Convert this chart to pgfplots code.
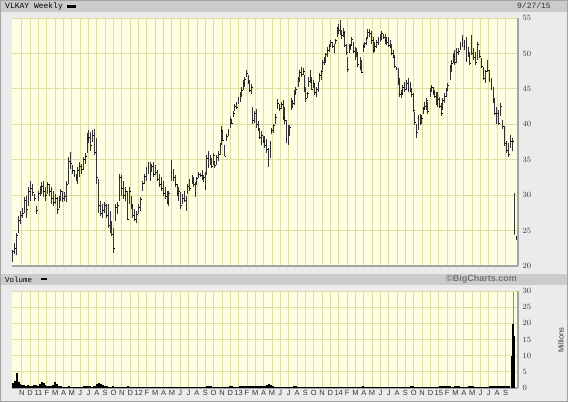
\documentclass[border=0pt]{standalone}
\usepackage{pgfplots}
\pgfplotsset{compat=1.18}
\usepackage{pgfplotstable}
\usepackage{fontspec}
\setmainfont{Liberation Sans}
\newfontfamily\monofont{Liberation Mono}
\definecolor{plotbg}{HTML}{FFFFE3}
\definecolor{gridc}{HTML}{DEDEA2}
\definecolor{framebg}{HTML}{EBEBEB}
\definecolor{barbg}{HTML}{CBCBCB}
\definecolor{axisc}{HTML}{A4A4A4}
\definecolor{lblc}{HTML}{333333}

\pgfdeclareplotmark{closetick}{\pgfpathmoveto{\pgfpointorigin}\pgfpathlineto{\pgfpoint{1.3pt}{0pt}}\pgfusepathqstroke}

\pgfplotstableread{
x h l c
0.0 22.3 20.6 22.0
1.0 23.2 21.7 22.5
2.1 24.7 21.6 24.3
3.1 27.0 24.7 26.5
4.2 27.8 25.9 27.2
5.2 28.2 26.8 27.5
6.2 29.7 27.5 29.2
7.3 29.9 26.8 28.0
8.3 31.1 28.5 30.5
9.3 32.0 29.2 31.0
10.4 31.6 29.9 30.4
11.4 30.1 29.2 29.5
12.5 28.5 27.3 27.8
13.3 30.6 29.2 30.2
14.2 31.3 29.9 30.8
15.0 31.8 30.1 31.2
15.9 32.0 29.7 30.5
17.0 31.1 29.2 30.0
18.0 31.8 30.1 31.5
19.0 31.6 29.9 30.6
20.1 31.1 28.7 29.5
21.1 30.6 28.5 29.0
22.1 30.1 28.7 29.6
23.2 29.7 27.3 28.0
24.0 29.9 28.2 29.3
24.9 30.9 29.2 30.5
26.0 30.6 29.0 29.5
27.0 30.4 29.2 29.8
28.0 32.0 29.0 31.5
29.1 35.4 31.6 34.8
30.1 36.1 33.7 34.5
30.9 34.2 33.0 33.5
31.8 33.5 32.5 32.8
32.9 33.0 32.0 32.5
33.6 34.0 31.6 33.5
34.6 34.7 32.5 34.0
35.6 34.4 33.0 33.6
36.7 35.4 33.5 35.0
37.7 35.9 34.4 35.5
38.8 38.7 35.9 38.0
39.5 39.2 37.3 38.2
40.5 38.9 36.3 37.0
41.5 39.2 37.5 38.5
42.6 39.4 35.6 36.0
43.6 38.0 31.6 32.5
44.6 32.3 27.5 28.5
45.7 29.2 27.0 27.5
46.7 28.7 26.8 27.8
47.8 29.0 27.5 28.5
48.8 28.7 26.8 27.2
49.8 28.7 25.4 25.8
50.5 27.8 24.7 25.5
51.4 26.3 24.2 24.5
52.3 25.4 21.8 22.5
53.3 28.8 26.4 28.3
54.3 29.0 27.3 28.5
55.4 33.0 29.2 32.5
56.4 32.8 29.9 31.0
57.5 32.0 29.4 30.0
58.5 31.1 29.2 30.5
59.5 30.6 26.6 26.6
60.6 31.1 28.7 30.5
61.6 29.9 28.0 28.5
62.4 28.7 26.8 27.2
63.3 28.0 26.3 26.6
64.4 27.8 26.1 27.3
65.4 28.7 27.3 28.3
66.4 29.7 27.8 29.4
67.5 32.0 30.6 31.6
68.3 33.0 31.6 32.7
69.2 34.0 32.0 33.8
70.3 34.7 33.0 34.0
71.3 34.7 32.0 33.0
72.3 34.4 33.2 34.0
73.1 34.7 32.5 33.0
74.1 34.2 32.8 33.2
75.1 33.5 32.0 32.2
76.1 33.0 31.1 31.5
77.2 32.5 30.6 31.0
78.2 32.0 29.9 30.2
79.2 31.1 29.4 29.8
80.3 30.6 28.7 29.0
81.0 30.6 28.5 30.2
82.2 35.0 32.0 33.2
83.4 33.7 32.0 32.5
84.4 32.8 31.1 31.5
85.5 31.6 29.9 30.2
86.3 31.1 29.2 30.5
87.2 30.4 28.0 28.5
88.2 30.1 28.7 29.5
89.3 30.6 29.0 29.3
90.1 29.9 27.8 29.5
91.0 31.6 30.1 31.2
92.0 32.3 30.6 31.0
93.1 32.8 31.6 32.0
93.9 32.6 31.2 31.5
94.7 31.9 29.8 30.2
95.6 32.6 31.4 32.3
96.6 33.3 32.4 33.0
97.4 33.1 32.5 32.8
98.4 33.6 32.1 32.4
99.2 32.9 31.9 32.5
99.9 33.3 30.7 31.0
100.8 35.7 32.9 35.2
101.5 36.2 33.8 34.2
102.5 35.7 34.3 35.0
103.2 35.2 33.8 34.0
104.2 36.0 34.3 35.6
104.9 34.8 33.8 34.2
106.0 35.7 34.3 35.3
107.0 36.2 34.8 35.8
107.7 37.4 35.7 37.0
108.4 39.8 37.1 39.2
109.1 39.0 37.6 37.8
110.1 37.1 35.5 35.5
111.2 38.6 37.6 38.3
111.9 39.3 38.3 39.0
112.9 41.0 39.5 40.7
113.6 40.7 40.0 40.2
114.6 41.9 41.0 41.5
115.3 42.9 41.9 42.5
116.4 43.1 42.1 42.4
117.1 43.8 42.9 43.5
118.1 44.5 43.1 44.2
118.8 45.2 43.8 44.8
119.8 46.2 44.8 45.8
120.5 46.7 45.2 46.3
121.5 47.7 46.7 47.2
122.2 46.9 45.7 46.0
122.9 46.2 44.5 44.8
124.0 45.7 44.3 45.2
124.7 42.4 40.0 40.5
125.7 41.9 40.2 41.5
126.7 42.1 39.5 40.0
127.4 40.5 39.0 39.3
128.1 39.5 37.9 38.2
129.2 39.0 37.1 38.5
130.2 38.3 37.4 37.6
130.9 38.3 36.7 37.0
131.9 37.9 36.0 36.4
132.6 36.7 34.0 35.0
133.7 37.6 35.2 37.3
134.4 39.5 38.6 39.2
135.4 40.0 38.8 39.8
136.4 41.4 40.0 41.0
137.5 43.6 42.1 43.0
138.5 42.9 41.9 42.2
139.5 43.1 42.1 42.8
140.6 43.4 40.6 41.0
141.3 42.5 40.1 40.5
142.0 40.6 37.3 38.0
143.0 39.9 37.1 37.5
144.0 39.9 38.3 39.5
144.7 43.7 42.0 43.2
145.4 43.4 42.3 43.0
146.5 44.8 42.7 44.5
147.1 45.3 44.1 45.0
148.2 46.7 45.3 46.4
148.9 47.7 46.0 47.3
149.9 48.1 46.7 47.0
151.0 47.9 46.9 47.5
151.6 46.9 44.6 45.0
152.3 45.3 43.2 43.6
153.0 44.6 43.7 44.3
153.7 46.7 45.3 46.0
154.8 47.7 45.8 46.2
155.4 46.7 44.8 45.0
156.1 46.2 45.1 45.8
156.8 45.8 44.1 44.5
157.9 45.3 43.9 45.0
158.6 46.0 44.6 45.8
159.3 47.2 46.0 46.9
160.3 47.7 46.2 47.5
161.0 49.1 47.7 48.8
161.7 49.5 48.4 49.0
162.7 50.0 48.6 49.8
163.4 50.9 49.5 50.5
164.4 51.4 50.2 51.0
165.1 51.9 50.9 51.5
166.2 51.6 50.7 51.0
166.9 51.4 50.0 50.2
167.6 52.1 51.4 51.8
168.6 53.8 52.3 53.5
169.3 54.2 52.8 53.2
170.0 54.7 52.6 53.8
170.7 53.3 52.1 52.5
171.7 53.6 52.3 53.0
172.4 53.1 50.9 51.2
173.4 51.4 49.8 50.2
174.1 49.5 47.4 47.8
174.8 51.4 50.0 51.0
175.5 51.4 50.5 51.2
176.2 52.3 51.2 52.0
176.9 51.6 50.0 50.3
177.9 50.9 49.1 49.4
178.6 50.7 49.5 50.2
179.3 50.0 48.1 48.5
180.4 49.5 47.7 48.0
181.1 49.1 47.2 47.4
182.1 51.4 50.2 51.0
182.8 51.6 50.7 51.4
183.5 52.3 51.2 52.0
184.5 53.5 52.1 53.0
185.5 53.5 52.3 52.8
186.3 53.1 51.4 51.8
187.4 52.3 50.0 50.5
188.1 51.6 50.2 51.0
189.1 51.9 50.7 51.5
189.8 52.3 51.2 52.0
190.8 52.8 51.6 52.2
191.5 53.1 51.9 52.8
192.6 52.8 52.1 52.3
193.6 52.8 51.4 51.8
194.3 52.3 51.2 51.6
195.3 52.3 50.9 51.2
196.0 51.9 50.7 51.0
196.7 51.4 49.8 50.0
197.7 50.5 49.3 49.5
198.4 49.8 47.9 48.2
199.1 48.1 47.7 47.9
200.2 47.9 45.5 46.0
200.9 46.5 43.9 44.2
201.9 44.8 43.7 44.3
202.6 45.5 44.1 45.2
203.6 46.0 44.6 45.0
204.7 46.2 44.8 45.8
205.4 46.5 44.6 44.9
206.4 46.0 44.6 45.5
207.1 45.1 43.9 44.2
208.1 44.4 41.8 42.0
208.8 41.8 39.9 40.3
209.9 40.1 38.0 38.8
210.6 41.3 39.2 41.0
211.6 41.5 39.9 40.2
212.3 41.3 40.1 40.8
213.3 42.5 41.5 42.2
214.0 43.2 42.0 42.5
215.0 43.7 42.0 43.4
215.7 43.2 41.5 41.8
216.8 45.1 43.9 44.8
217.5 45.5 44.6 45.2
218.5 45.3 44.1 44.5
219.2 44.8 43.7 44.0
220.2 44.6 42.7 43.0
220.9 44.6 42.5 43.5
221.6 43.9 42.3 42.6
222.7 43.0 41.1 41.5
223.4 43.7 42.0 43.4
224.4 44.4 43.0 44.0
225.4 45.1 43.9 44.8
226.1 45.8 44.8 45.5
227.2 48.4 46.2 48.0
227.9 49.1 47.4 48.6
228.9 50.0 48.6 49.6
229.6 50.5 48.4 48.8
230.6 50.7 48.6 50.2
231.7 50.7 49.8 50.3
232.4 51.6 50.5 51.2
233.4 52.6 50.9 52.0
234.5 51.9 50.5 51.0
235.5 52.3 48.8 49.2
236.5 50.9 49.5 50.0
237.5 50.2 48.4 48.6
238.5 52.6 49.8 50.0
239.5 50.7 49.1 49.4
240.5 50.2 48.4 48.8
241.5 51.6 49.1 51.3
242.5 50.5 49.3 49.6
243.5 49.3 47.9 48.2
244.5 48.1 46.2 46.5
245.5 47.7 45.8 47.5
246.5 49.1 47.4 47.6
247.5 47.7 46.0 46.3
248.5 46.5 44.8 45.0
249.5 45.3 43.0 43.5
250.5 43.7 41.3 41.6
251.5 42.5 40.1 41.5
252.5 42.0 39.9 40.2
253.5 43.0 41.1 42.6
254.5 40.6 39.4 39.7
255.5 39.7 36.9 37.3
256.5 37.6 35.9 36.3
257.5 37.3 35.4 35.8
258.5 38.5 36.6 37.6
259.5 38.0 36.2 37.6
260.5 30.3 24.4 25.0
261.5 24.2 23.7 24.0
}\price

\begin{document}
\begin{tikzpicture}
\begin{scope}[x=1pt,y=1pt]
\useasboundingbox (0,0) rectangle (568,402);
\fill[framebg] (0,0) rectangle (568,402);
\fill[barbg] (0,390) rectangle (568,402);
\fill[barbg] (0,117) rectangle (568,128);
\draw[axisc] (0.5,0.5) rectangle (567.5,401.5);
\node[anchor=west, inner sep=0pt, font=\monofont\fontsize{8}{8}\selectfont] at (5,396) {VLKAY Weekly};
\fill[black] (66.5,394.2) rectangle (75.5,397);
\node[anchor=east, inner sep=0pt, font=\monofont\fontsize{8}{8}\selectfont, text=lblc] at (551,396) {9/27/15};
\node[anchor=west, inner sep=0pt, font=\monofont\fontsize{7.5}{8}\selectfont] at (5,122.6) {Volume};
\fill[black] (40.7,121.8) rectangle (46.7,123.6);
\node[anchor=east, inner sep=0pt, font=\bfseries\fontsize{9}{9}\selectfont, text=black!55] at (517,122.6) {©BigCharts.com};
\node[rotate=90, inner sep=0pt, font=\fontsize{7.5}{8}\selectfont, text=lblc] at (561,62) {Millions};
\end{scope}

\begin{axis}[
  at={(12pt,136pt)}, anchor=south west, scale only axis,
  width=506pt, height=248pt,
  xmin=-0.4, xmax=262.5, ymin=20, ymax=55,
  axis background/.style={fill=plotbg},
  axis x line*=bottom, axis y line*=right,
  axis line style={axisc, line width=1.3pt},
  xtick={4.7,9.0333,...,256.5}, xticklabels={},
  ytick={20,25,...,55},
  major tick length=0pt,
  grid=major, major grid style={gridc, line width=0.9pt},
  yticklabel style={font=\fontsize{8}{8}\selectfont, text=lblc, xshift=1pt},
]
\addplot[only marks, mark=closetick, black, mark options={line width=0.7pt},
  error bars/.cd, y dir=both, y explicit, error mark=none,
  error bar style={line width=0.9pt, black!80}]
  table[x=x, y=c, y error plus expr=\thisrow{h}-\thisrow{c}, y error minus expr=\thisrow{c}-\thisrow{l}] {\price};
\end{axis}

\begin{axis}[
  at={(12pt,14pt)}, anchor=south west, scale only axis,
  width=506pt, height=97pt,
  xmin=-0.4, xmax=262.5, ymin=0, ymax=30,
  axis background/.style={fill=plotbg},
  axis x line*=bottom, axis y line*=right,
  axis line style={axisc, line width=1.3pt},
  xtick={4.7,9.0333,...,256.5},
  xticklabels={N,D,11,F,M,A,M,J,J,A,S,O,N,D,12,F,M,A,M,J,J,A,S,O,N,D,13,F,M,A,M,J,J,A,S,O,N,D,14,F,M,A,M,J,J,A,S,O,N,D,15,F,M,A,M,J,J,A,S},
  ytick={0,5,...,30},
  major tick length=0pt,
  grid=major, major grid style={gridc, line width=0.9pt},
  yticklabel style={font=\fontsize{8}{8}\selectfont, text=lblc, xshift=1pt},
  xticklabel style={font=\fontsize{7.5}{8}\selectfont, text=lblc, yshift=1pt},
]
\addplot[ycomb, black!45, line width=0.9pt] coordinates {(260.2,29.8)};
\addplot[ycomb, black, line width=1.95pt] coordinates {
(0,1.4)(1,2.2)(2,4.5)(3,2.0)(4,1.3)(5,1.0)(6,0.9)(7,0.7)(8,0.8)(9,0.6)
(10,0.7)(11,1.0)(12,0.9)(13,0.6)(14,1.1)(15,1.9)(16,1.4)(17,0.8)(18,0.6)(19,0.5)
(20,0.6)(21,0.9)(22,1.8)(23,1.3)(24,0.6)(25,0.5)(26,0.4)(27,0.4)(28,0.4)(29,0.5)
(30,0.4)(31,0.3)(32,0.3)(33,0.3)(34,0.3)(35,0.3)(36,0.3)(37,0.5)(38,0.5)(39,0.6)
(40,0.5)(41,0.4)(42,0.5)(43,0.7)(44,1.1)(45,1.5)(46,1.3)(47,0.9)(48,0.6)(49,0.5)
(50,0.4)(51,0.4)(52,0.6)(53,0.4)(54,0.3)(55,0.4)(56,0.4)(57,0.4)(58,0.4)(59,0.4)
(60,0.5)(61,0.4)(62,0.3)(63,0.4)(64,0.3)(65,0.3)(66,0.3)(67,0.3)(68,0.3)(69,0.3)
(70,0.3)(71,0.3)(72,0.3)(73,0.3)(74,0.3)(75,0.3)(76,0.3)(77,0.3)(78,0.3)(79,0.3)
(80,0.3)(81,0.3)(82,0.3)(83,0.3)(84,0.3)(85,0.3)(86,0.3)(87,0.3)(88,0.3)(89,0.3)
(90,0.3)(91,0.3)(92,0.3)(93,0.3)(94,0.3)(95,0.3)(96,0.3)(97,0.3)(98,0.3)(99,0.3)
(100,0.3)(101,0.5)(102,0.5)(103,0.5)(104,0.4)(105,0.3)(106,0.3)(107,0.3)(108,0.3)(109,0.3)
(110,0.3)(111,0.3)(112,0.3)(113,0.5)(114,0.5)(115,0.4)(116,0.3)(117,0.3)(118,0.5)(119,0.5)
(120,0.5)(121,0.5)(122,0.5)(123,0.5)(124,0.5)(125,0.5)(126,0.5)(127,0.5)(128,0.5)(129,0.5)
(130,0.5)(131,0.6)(132,0.9)(133,1.1)(134,1.0)(135,0.6)(136,0.4)(137,0.4)(138,0.3)(139,0.3)
(140,0.3)(141,0.3)(142,0.3)(143,0.3)(144,0.3)(145,0.4)(146,0.5)(147,0.5)(148,0.4)(149,0.3)
(150,0.3)(151,0.3)(152,0.3)(153,0.3)(154,0.3)(155,0.3)(156,0.4)(157,0.4)(158,0.4)(159,0.4)
(160,0.3)(161,0.3)(162,0.3)(163,0.4)(164,0.3)(165,0.3)(166,0.3)(167,0.3)(168,0.3)(169,0.4)
(170,0.4)(171,0.4)(172,0.4)(173,0.3)(174,0.3)(175,0.3)(176,0.3)(177,0.3)(178,0.3)(179,0.3)
(180,0.3)(181,0.4)(182,0.6)(183,0.4)(184,0.3)(185,0.3)(186,0.3)(187,0.3)(188,0.4)(189,0.4)
(190,0.4)(191,0.4)(192,0.4)(193,0.3)(194,0.3)(195,0.4)(196,0.4)(197,0.4)(198,0.4)(199,0.4)
(200,0.4)(201,0.4)(202,0.3)(203,0.3)(204,0.3)(205,0.3)(206,0.4)(207,0.6)(208,0.5)(209,0.4)
(210,0.3)(211,0.3)(212,0.3)(213,0.3)(214,0.3)(215,0.3)(216,0.3)(217,0.3)(218,0.3)(219,0.3)
(220,0.3)(221,0.3)(222,0.5)(223,0.5)(224,0.5)(225,0.5)(226,0.5)(227,0.5)(228,0.4)(229,0.4)
(230,0.5)(231,0.7)(232,0.5)(233,0.4)(234,0.3)(235,0.3)(236,0.3)(237,0.5)(238,0.7)(239,0.5)
(240,0.3)(241,0.3)(242,0.3)(243,0.3)(244,0.3)(245,0.3)(246,0.3)(247,0.4)(248,0.5)(249,0.5)
(250,0.5)(251,0.5)(252,0.5)(253,0.5)(254,0.5)(255,0.5)(256,0.5)(257,0.5)(258,0.5)(259.3,9.9)
(259.9,19.8)(260.5,16.1)};
\end{axis}
\end{tikzpicture}
\end{document}
